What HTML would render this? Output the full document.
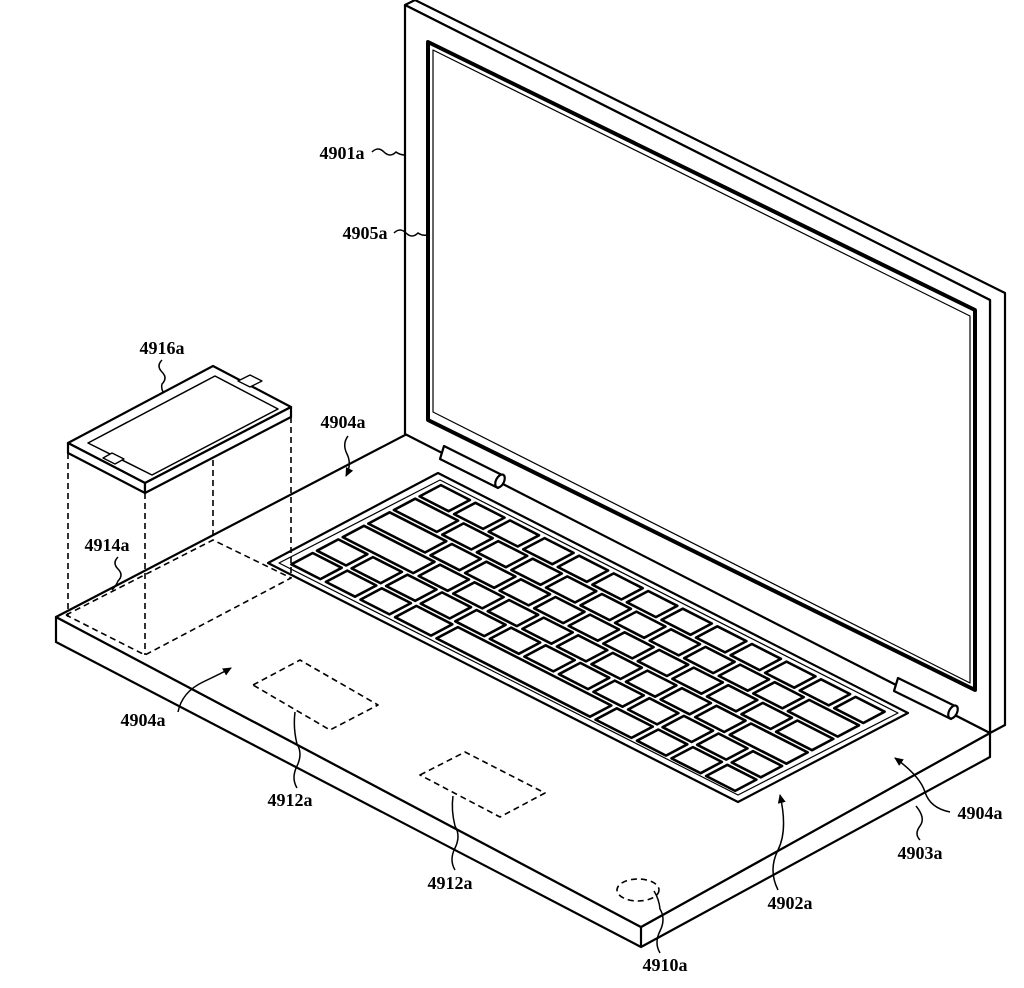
<!DOCTYPE html>
<html><head><meta charset="utf-8"><style>
html,body{margin:0;padding:0;background:#fff;}
svg{display:block}
text{font-family:"Liberation Serif",serif;font-weight:bold;font-size:18px;fill:#000;text-anchor:middle}
</style></head><body>
<svg width="1024" height="988" viewBox="0 0 1024 988" xmlns="http://www.w3.org/2000/svg">
<defs><marker id="ar" markerWidth="10" markerHeight="10" refX="8" refY="5" orient="auto" markerUnits="userSpaceOnUse"><path d="M0,1 L9,5 L0,9 Z" fill="#000"/></marker></defs>
<g fill="#fff" stroke="#000" stroke-width="2.2" stroke-linejoin="round">
<polygon points="56,617 56,642 641,947 990,757 990,733 641,927"/>
<polygon points="56,617 407,434 990,733 641,927"/>
<line x1="641" y1="927" x2="641" y2="947"/>
<polygon points="405,5 415,0 1005,293 1005,725 990,733 990,300"/>
<polygon points="405,5 990,300 990,733 405,434"/>
<polygon points="428,42 975,310 975,690 428,420" stroke-width="4"/>
<polygon points="433,50 970,316 970,683 433,412" stroke-width="1.2"/>
<path d="M444,446 L502,475 L498,488 L440,459 Z"/>
<ellipse cx="500" cy="481" rx="4" ry="7" transform="rotate(27 500 481)"/>
<path d="M898,678 L955,706 L951,719 L894,691 Z"/>
<ellipse cx="953" cy="712" rx="4" ry="7" transform="rotate(27 953 712)"/>
<polygon points="438,473 908,713 738,802 268,563"/>
<polygon points="440,480 898,713 738,795 279,563" stroke-width="1.2"/>
<g id="keys"></g>
<polygon points="68,443 213,366 291,407 145,483"/>
<polygon points="68,443 145,483 145,493 68,453"/>
<polygon points="145,483 291,407 291,417 145,493"/>
<polygon points="88,443 215,376 278,409 152,475" stroke-width="1.5"/>
<polygon points="103,458 112,453 124,459 115,464" stroke-width="1.3"/>
<polygon points="238,381 250,375 262,381 250,387" stroke-width="1.3"/>
<g fill="none" stroke-width="1.6" stroke-dasharray="6,4">
<line x1="68" y1="453" x2="68" y2="617"/>
<line x1="145" y1="493" x2="145" y2="655"/>
<line x1="213" y1="460" x2="213" y2="540"/>
<line x1="291" y1="417" x2="291" y2="578"/>
<polyline points="66,615 213,540 291,578 145,655 66,615"/>
<polygon points="253,685 300,660 378,705 330,730"/>
<polygon points="420,775 465,752 545,793 500,817"/>
<ellipse cx="638" cy="890" rx="21" ry="11"/>
</g>
</g>
<g fill="none" stroke="#000" stroke-width="1.5">
<path d="M372,152 q6,-6 12,0 t12,0 q4,3 9,3"/>
<path d="M394,233 q6,-6 12,0 t12,0 q4,3 10,2"/>
<path d="M162,360 q-6,6 0,12 t0,12 q-1,4 1,8"/>
<path d="M348,436 q-6,8 -1,18 t-1,22" marker-end="url(#ar)"/>
<path d="M118,557 q-6,6 0,12 t0,12 q-2,5 -6,9"/>
<path d="M178,712 q4,-20 25,-30 t28,-14" marker-end="url(#ar)"/>
<path d="M297,788 q-6,-10 0,-22 t0,-22 q-4,-16 -2,-32"/>
<path d="M455,870 q-6,-10 0,-22 t0,-22 q-4,-16 -2,-30"/>
<path d="M660,953 q-6,-10 0,-22 t0,-22 q-1,-10 -6,-18"/>
<path d="M778,890 q-10,-20 0,-40 t2,-55" marker-end="url(#ar)"/>
<path d="M920,840 q-6,-6 0,-14 t-4,-20"/>
<path d="M950,812 q-20,-4 -25,-20 t-30,-34" marker-end="url(#ar)"/>
</g>
<text x="342" y="159">4901a</text>
<text x="365" y="239">4905a</text>
<text x="162" y="354">4916a</text>
<text x="343" y="428">4904a</text>
<text x="107" y="551">4914a</text>
<text x="143" y="726">4904a</text>
<text x="290" y="806">4912a</text>
<text x="450" y="889">4912a</text>
<text x="665" y="971">4910a</text>
<text x="790" y="909">4902a</text>
<text x="920" y="859">4903a</text>
<text x="980" y="819">4904a</text>
</svg>
<script>
(function(){
var g=document.getElementById('keys');
var W=13.6,H=6.3;
var a=470/W,b=240/W,c=-170/H,d=90/H,e=438,f=473;
function P(x,y){return [e+a*x+c*y,f+b*x+d*y];}
var rows=[
[1,1,1,1,1,1,1,1,1,1,1,1,1],
[1.4,1,1,1,1,1,1,1,1,1,1,1.6],
[1.8,1,1,1,1,1,1,1,1,1,1,1.2],
[2.2,1,1,1,1,1,1,1,1,1,1.8],
[1,1,1,1,1,1,1,1,1,1,1,1,1],
[1,1,1,1.2,4.6,1.2,1,1,1]
];
var ns='http://www.w3.org/2000/svg';
for(var r=0;r<rows.length;r++){
 var x=0.3,y=0.3+r*0.95;
 for(var k=0;k<rows[r].length;k++){
  var w=rows[r][k];
  var x0=x+0.08,x1=x+w-0.08,y0=y+0.08,y1=y+0.87;
  var pts=[P(x0,y0),P(x1,y0),P(x1,y1),P(x0,y1)];
  var p=document.createElementNS(ns,'polygon');
  p.setAttribute('points',pts.map(function(q){return q[0].toFixed(1)+','+q[1].toFixed(1)}).join(' '));
  p.setAttribute('stroke-width','2.6');
  g.appendChild(p);
  x+=w;
 }
}
})();
</script>
</body></html>
